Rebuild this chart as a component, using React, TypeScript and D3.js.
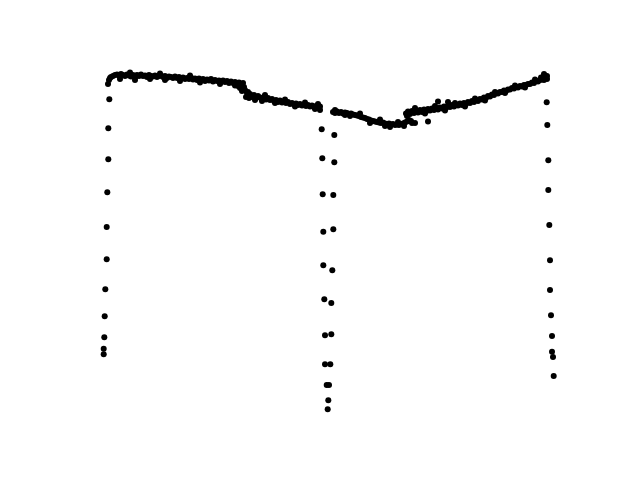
import React from "react";
import * as d3 from "d3";

type P = [number, number];

const leftColumn: P[] = [
  [9.3, 330.7], [8.3, 301.7], [8.3, 270.7], [7.3, 237.7], [6.7, 203], [6.7, 170.7],
  [5.3, 140.7], [4.7, 113.7], [4.3, 92.7], [3.7, 81.3], [3.7, 75.7],
];

const middleLeftColumn: P[] = [
  [221.7, 300.7], [222.3, 271.7], [222.7, 235.7], [223.3, 198.3], [223.3, 164.7],
  [224.3, 130.7], [225, 94.7], [225, 65.7], [226.7, 45], [228.3, 29.7], [227.7, 20.7],
];

const middleRightColumn: P[] = [
  [234.3, 295], [234.3, 267.7], [233.3, 235], [233.3, 200.7], [232.3, 159.7],
  [231.3, 127], [231.3, 95.7], [230.3, 65.7], [229, 45],
];

const rightColumn: P[] = [
  [446.7, 327.7], [447.3, 305], [448.3, 269.7], [448.3, 240], [449.3, 205], [450, 169.7],
  [450, 140], [451, 114.7], [452, 94], [452, 78.3], [453, 73], [453.7, 54],
];

const bandA: P[] = [
  [8, 346], [9, 350], [10, 352], [11, 353], [13, 354], [15, 355], [17, 355.5], [19, 354.5],
  [21, 356], [23, 355], [25, 354], [27, 355.5], [29, 354.5], [31, 353.5], [33, 355], [35, 352.5],
  [37, 355], [39, 354], [41, 355.5], [43, 354], [45, 354.5], [47, 353], [49, 355], [51, 354],
  [53, 353.5], [55, 354.5], [57, 353], [59, 354], [61, 354.5], [63, 353], [65, 354], [67, 352],
  [69, 353.5], [71, 353], [73, 352], [75, 353.5], [77, 352], [79, 353], [81, 351.5], [83, 352.5],
  [85, 351], [87, 352], [89, 351], [91, 352.5], [93, 350.5], [95, 351.5], [97, 350], [99, 351.5],
  [101, 350], [103, 351], [105, 349], [107, 350.5], [109, 349.5], [111, 351], [113, 348.5],
  [115, 350], [117, 349], [119, 349.5], [121, 348], [123, 349.5], [125, 348], [127, 349],
  [129, 347], [131, 348.5], [133, 347], [135, 348], [137, 346], [139, 347.5], [141, 345],
  [143, 347], [144, 343], [145, 340], [147, 337], [148, 334], [149, 332],
  [20, 351], [35, 350], [50, 351], [65, 350], [80, 349], [100, 347.5], [120, 346],
  [135, 344.5], [30, 357.5], [60, 356.5], [90, 354.5], [140, 342], [142, 339], [146, 333],
  [138, 344],
];

const bandB: P[] = [
  [150, 336], [152, 333], [154, 335], [156, 332], [158, 334], [160, 332.5], [162, 331],
  [164, 333], [166, 330.5], [168, 332], [170, 330], [172, 331], [174, 329], [176, 330],
  [178, 328], [180, 329.5], [182, 327.5], [184, 328.5], [186, 327], [188, 328], [190, 326],
  [192, 327], [194, 325.5], [196, 326.5], [198, 325], [200, 326], [202, 324.5], [204, 325.5],
  [206, 324], [208, 325], [210, 323.5], [212, 324.5], [214, 323], [216, 324], [218, 322.5],
  [220, 323.5], [220, 320],
  [155, 330], [165, 335], [175, 327], [185, 330.5], [195, 323.5], [205, 327.5], [215, 321],
  [218, 326], [148, 338], [162, 329],
];

const bandC: P[] = [
  [233, 318], [235, 317], [237, 318.5], [239, 317], [241, 318], [243, 316.5], [245, 317.5],
  [247, 317], [249, 316], [251, 316.5], [253, 315.5], [255, 315], [257, 314.5], [259, 314],
  [261, 313], [263, 312.5], [265, 312], [267, 311], [269, 310.5], [271, 309.5], [273, 309],
  [275, 308.5], [277, 308], [279, 307.5], [281, 307], [283, 307.5], [285, 306.5], [287, 306],
  [289, 306.5], [291, 305.5], [293, 306], [295, 305], [297, 305.5], [299, 305], [301, 306],
  [303, 306.5], [305, 307.5], [307, 308.5], [309, 310], [311, 309],
  [235, 320], [250, 314], [260, 316.5], [270, 307], [280, 310.5], [290, 303], [298, 308],
  [304, 304], [312, 307], [245, 315], [285, 304],
];

const bandD: P[] = [
  [306, 316.5], [308, 318.5], [310, 316], [312, 319], [314, 317], [316, 319.5], [318, 317.5],
  [320, 320], [322, 318], [324, 320.5], [326, 318.5], [328, 321], [330, 319.5], [332, 321.5],
  [334, 320], [336, 322], [338, 320.5], [340, 322.5], [342, 321.5], [344, 323.5], [346, 322],
  [348, 324], [350, 323], [352, 325], [354, 323.5], [356, 325.5], [358, 324.5], [360, 326.5],
  [362, 325], [364, 327], [366, 326], [368, 328], [370, 327], [372, 329], [374, 328],
  [376, 330], [378, 329], [380, 331], [382, 330.5], [384, 332.5], [386, 332], [388, 334],
  [390, 333.5], [392, 335.5], [394, 335], [396, 337], [398, 336.5], [400, 338], [402, 338],
  [404, 339.5], [406, 339], [408, 340.5], [410, 340.5], [412, 342], [414, 341.5], [416, 343],
  [418, 342.5], [420, 344], [422, 343.5], [424, 345], [426, 345], [428, 346], [430, 346],
  [432, 347.5], [434, 347], [436, 349], [438, 348.5], [440, 350], [442, 350.5], [443, 353],
  [444, 350], [445, 354.5], [446, 352], [447, 354],
  [307, 314], [315, 322], [325, 316.5], [335, 324], [345, 319.5], [355, 327], [365, 323.5],
  [375, 331.5], [385, 329.5], [395, 338], [405, 337], [415, 344.5], [425, 342.5],
  [435, 350.5], [441, 352.5], [444, 356], [447, 351],
];

const outliers: P[] = [
  [338, 328.5], [348, 328], [328, 308.5], [315, 307],
];

const allPoints: P[] = [
  ...leftColumn, ...middleLeftColumn, ...middleRightColumn, ...rightColumn,
  ...bandA, ...bandB, ...bandC, ...bandD, ...outliers,
];

const W = 640;
const H = 480;

export default function App() {
  const x = d3.scaleLinear().domain([0, 460]).range([100, 560]);
  const y = d3.scaleLinear().domain([0, 380]).range([430, 50]);
  return (
    <svg
      width={W}
      height={H}
      style={{ position: "absolute", left: 0, top: 0, background: "#fff" }}
    >
      <rect width={W} height={H} fill="#fff" />
      {allPoints.map((p, i) => (
        <circle key={i} cx={x(p[0])} cy={y(p[1])} r={3} fill="#000" />
      ))}
    </svg>
  );
}
